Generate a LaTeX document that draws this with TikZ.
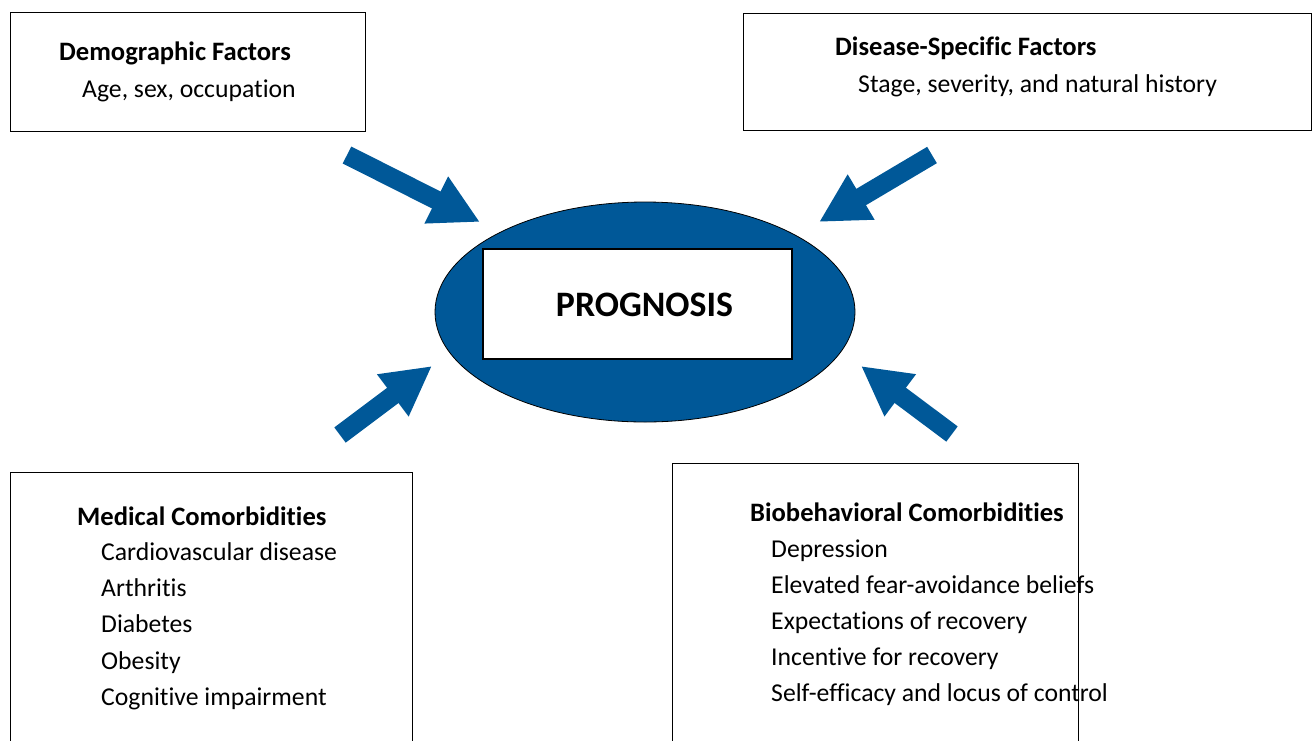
\documentclass[tikz,border=0pt]{standalone}
\usepackage{fontspec}
\setmainfont{Carlito}[Ligatures={NoCommon,NoContextual}]
\usetikzlibrary{arrows.meta,shapes.geometric}
\definecolor{progblue}{RGB}{0,88,152}
\begin{document}
\begin{tikzpicture}[x=1pt,y=-1pt,
  factorbox/.style={draw=black,line width=1.3pt,anchor=north west,inner sep=0pt},
  headtext/.style={anchor=base west,inner sep=0pt,font=\fontsize{26.6}{30}\selectfont\bfseries},
  itemtext/.style={anchor=base west,inner sep=0pt,font=\fontsize{25.7}{30}\selectfont},
  blockarrow/.style={draw=progblue,line width=19pt,-{Triangle[length=49pt,width=49pt]}}]
\useasboundingbox (0,0) rectangle (1312,740);
\clip (0,0) rectangle (1312,740);
% factor boxes
\node[factorbox,minimum width=355pt,minimum height=119pt] (demo) at (10,12) {};
\node[factorbox,minimum width=568pt,minimum height=117pt] (dis) at (742.5,12.5) {};
\node[factorbox,minimum width=402pt,minimum height=290pt] (med) at (10,472) {};
\node[factorbox,minimum width=406pt,minimum height=300pt] (bio) at (672,463) {};
% texts
\node[headtext] (demoh) at (59,60) {Demographic Factors};
\node[itemtext] (demo1) at (82,97) {Age, sex, occupation};
\node[headtext] (dish) at (835,55) {Disease-Specific Factors};
\node[itemtext] (dis1) at (858,92) {Stage, severity, and natural history};
\node[headtext] (medh) at (77,525) {Medical Comorbidities};
\node[itemtext] (med1) at (101,560) {Cardiovascular disease};
\node[itemtext] (med2) at (101,596) {Arthritis};
\node[itemtext] (med3) at (101,632) {Diabetes};
\node[itemtext] (med4) at (101,669) {Obesity};
\node[itemtext] (med5) at (101,705) {Cognitive impairment};
\node[headtext] (bioh) at (750,521) {Biobehavioral Comorbidities};
\node[itemtext] (bio1) at (771,557) {Depression};
\node[itemtext] (bio2) at (771,593) {Elevated fear-avoidance beliefs};
\node[itemtext] (bio3) at (771,629) {Expectations of recovery};
\node[itemtext] (bio4) at (771,665) {Incentive for recovery};
\node[itemtext] (bio5) at (771,701) {Self-efficacy and locus of control};
% center
\node[ellipse,draw=black,line width=0.8pt,fill=progblue,minimum width=420pt,minimum height=220pt,inner sep=0pt] (ell) at (645,312) {};
\node[draw=black,line width=1.5pt,fill=white,minimum width=309pt,minimum height=110pt,inner sep=0pt] (prog) at (637.5,304) {};
\node[anchor=base,inner sep=0pt,font=\fontsize{35.8}{40}\selectfont\bfseries] (progt) at (644.5,316.5) {PROGNOSIS};
% arrows
\coordinate (a1s) at (347,155);
\coordinate (a1t) at (480,222);
\coordinate (a2s) at (932,155);
\coordinate (a2t) at (819,222);
\coordinate (a3s) at (340,435);
\coordinate (a3t) at (432,366);
\coordinate (a4s) at (952,434);
\coordinate (a4t) at (861,366);
\draw[blockarrow] (a1s) -- (a1t);
\draw[blockarrow] (a2s) -- (a2t);
\draw[blockarrow] (a3s) -- (a3t);
\draw[blockarrow] (a4s) -- (a4t);
\end{tikzpicture}
\end{document}
